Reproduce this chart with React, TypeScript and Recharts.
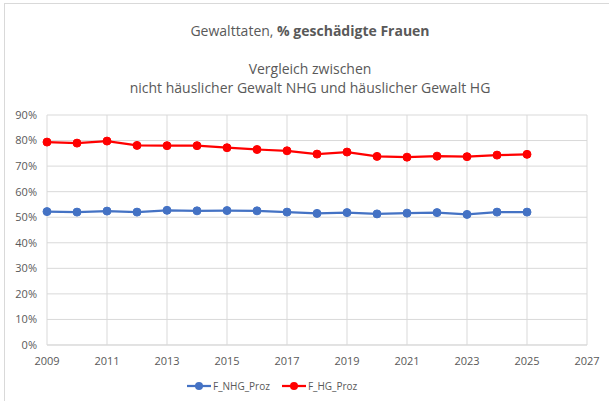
import React from 'react';
import { LineChart, Line, XAxis, YAxis, CartesianGrid } from 'recharts';

const years = [2009, 2010, 2011, 2012, 2013, 2014, 2015, 2016, 2017, 2018, 2019, 2020, 2021, 2022, 2023, 2024, 2025];
const nhgProz = [52.2, 52.0, 52.4, 52.0, 52.7, 52.5, 52.6, 52.5, 52.0, 51.5, 51.8, 51.3, 51.6, 51.8, 51.1, 52.0, 52.0];
const hgProz = [79.4, 79.0, 79.8, 78.1, 78.0, 78.0, 77.2, 76.5, 76.0, 74.7, 75.5, 73.8, 73.5, 73.9, 73.7, 74.3, 74.6];
const xTicks = [2009, 2011, 2013, 2015, 2017, 2019, 2021, 2023, 2025, 2027];
const yTicks = [0, 10, 20, 30, 40, 50, 60, 70, 80, 90];

const data = years.map((y, i) => ({ year: y, F_NHG_Proz: nhgProz[i], F_HG_Proz: hgProz[i] }));

const FONT = '"Open Sans", sans-serif';
const GRAY = '#595959';

const LegendItem: React.FC<{ color: string; label: string }> = ({ color, label }) => (
  <span style={{ display: 'inline-flex', alignItems: 'center', marginRight: 12 }}>
    <svg width={24} height={10}>
      <line x1={0} y1={5} x2={24} y2={5} stroke={color} strokeWidth={2.25} />
      <circle cx={12} cy={5} r={4} fill={color} />
    </svg>
    <span style={{ marginLeft: 2 }}>{label}</span>
  </span>
);

export default function App() {
  return (
    <div style={{ position: 'absolute', left: 0, top: 0, width: 609, height: 401, background: '#fff', fontFamily: FONT, color: GRAY }}>
      <div style={{ position: 'absolute', left: 4, top: 3, width: 610, height: 410, border: '1px solid #d9d9d9', boxSizing: 'border-box' }} />
      <div style={{ position: 'absolute', left: 0, width: 620, top: 21, textAlign: 'center', fontSize: 14 }}>
        Gewalttaten, <b>% geschädigte Frauen</b>
      </div>
      <div style={{ position: 'absolute', left: 0, width: 620, top: 59, textAlign: 'center', fontSize: 14, lineHeight: '19px' }}>
        Vergleich zwischen
        <br />
        nicht häuslicher Gewalt NHG und häuslicher Gewalt HG
      </div>
      <div style={{ position: 'absolute', left: 0, top: 0 }}>
        <LineChart width={609} height={401} data={data} margin={{ top: 115, right: 22, bottom: 26, left: 7 }}>
          <CartesianGrid stroke="#d9d9d9" strokeWidth={1} />
          <XAxis
            dataKey="year"
            type="number"
            domain={[2009, 2027]}
            ticks={xTicks}
            height={30}
            tickLine={false}
            axisLine={{ stroke: '#d9d9d9' }}
            tick={{ fill: GRAY, fontSize: 11, fontFamily: FONT }}
            tickMargin={6}
            interval={0}
          />
          <YAxis
            type="number"
            domain={[0, 90]}
            ticks={yTicks}
            width={40}
            tickLine={false}
            axisLine={false}
            tickFormatter={(v) => `${v}%`}
            tick={{ fill: GRAY, fontSize: 11, fontFamily: FONT }}
            tickMargin={4}
            interval={0}
          />
          <Line dataKey="F_NHG_Proz" stroke="#4472C4" strokeWidth={2.25} dot={{ r: 4, fill: '#4472C4', stroke: '#4472C4', strokeWidth: 1 }} isAnimationActive={false} />
          <Line dataKey="F_HG_Proz" stroke="#FF0000" strokeWidth={2.25} dot={{ r: 4, fill: '#FF0000', stroke: '#FF0000', strokeWidth: 1 }} isAnimationActive={false} />
        </LineChart>
      </div>
      <div style={{ position: 'absolute', left: 187, top: 379, fontSize: 10, whiteSpace: 'nowrap' }}>
        <LegendItem color="#4472C4" label="F_NHG_Proz" />
        <LegendItem color="#FF0000" label="F_HG_Proz" />
      </div>
    </div>
  );
}
